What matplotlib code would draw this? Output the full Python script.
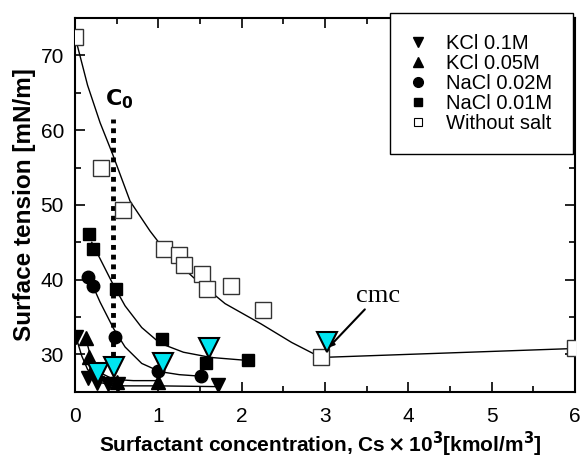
import matplotlib
matplotlib.use("Agg")
import matplotlib.pyplot as plt
from matplotlib.lines import Line2D

plt.rcParams['font.family'] = ['Liberation Sans', 'DejaVu Sans']

# datos
# KCl 0.1M (triangulos hacia abajo)
kcl01_x = [0.01, 0.16, 0.26, 0.39, 0.52, 1.71]
kcl01_y = [32.3, 26.9, 26.2, 26.1, 26.0, 25.9]
kcl01_fit_x = [0.02, 0.08, 0.15, 0.22, 0.32, 0.45, 0.6, 1.0, 1.7]
kcl01_fit_y = [32.0, 29.8, 28.0, 27.0, 26.2, 25.9, 25.8, 25.8, 25.7]

# KCl 0.05M (triangulos hacia arriba)
kcl005_x = [0.13, 0.17, 0.22, 0.5, 1.0]
kcl005_y = [32.2, 29.6, 28.2, 26.3, 26.3]
kcl005_fit_x = [0.12, 0.18, 0.25, 0.33, 0.42, 0.55, 0.7, 1.0]
kcl005_fit_y = [32.5, 30.0, 28.4, 27.4, 26.9, 26.6, 26.5, 26.5]

# NaCl 0.02M (circulos)
nacl002_x = [0.16, 0.21, 0.48, 0.99, 1.51]
nacl002_y = [40.4, 39.2, 32.3, 27.8, 27.1]
nacl002_fit_x = [0.2, 0.3, 0.46, 0.6, 0.8, 1.02, 1.25, 1.5]
nacl002_fit_y = [39.5, 37.0, 33.5, 31.0, 28.8, 27.7, 27.3, 27.1]

# NaCl 0.01M (cuadrados llenos)
nacl001_x = [0.17, 0.21, 0.49, 1.04, 1.57, 2.07]
nacl001_y = [46.1, 44.1, 38.8, 32.1, 28.9, 29.3]
nacl001_fit_x = [0.2, 0.3, 0.45, 0.6, 0.8, 1.02, 1.3, 1.63, 2.07]
nacl001_fit_y = [45.0, 42.8, 39.5, 36.5, 33.6, 31.5, 30.3, 29.6, 29.2]

# Sin sal (cuadrados vacios)
nosalt_x = [0.0, 0.31, 0.58, 1.07, 1.25, 1.31, 1.52, 1.58, 1.87, 2.25, 2.95, 6.0]
nosalt_y = [72.5, 54.9, 49.3, 44.1, 43.3, 41.9, 40.7, 38.7, 39.1, 35.9, 29.7, 30.8]
nosalt_fit_x = [0.0, 0.15, 0.3, 0.45, 0.66, 0.9, 1.1, 1.42, 1.8, 2.23, 2.6, 2.95, 6.0]
nosalt_fit_y = [72.5, 66.0, 61.0, 56.8, 50.5, 46.5, 43.6, 40.3, 36.8, 34.1, 31.6, 29.6, 30.8]

# cmc (triangulos cian)
cmc_x = [0.28, 0.47, 1.06, 1.61, 3.02]
cmc_y = [27.5, 28.3, 28.8, 30.9, 31.6]

c0_x = 0.46
c0_y = [28.5, 61.5]

fig = plt.figure(figsize=(5.82, 4.61), dpi=100)
ax = fig.add_axes([0.129, 0.150, 0.859, 0.811])

# curvas
for fx, fy in [(kcl01_fit_x, kcl01_fit_y), (kcl005_fit_x, kcl005_fit_y),
               (nacl002_fit_x, nacl002_fit_y), (nacl001_fit_x, nacl001_fit_y),
               (nosalt_fit_x, nosalt_fit_y)]:
    ax.plot(fx, fy, color='black', lw=1.0, zorder=2)

# linea C0
ax.plot([c0_x, c0_x], c0_y, color='black', lw=3.5, linestyle=(0, (1, 1)), zorder=3)
ax.text(0.36, 63.3, r'$\mathbf{C_0}$', fontsize=16, fontweight='bold')

# puntos
ax.plot(nosalt_x, nosalt_y, 's', ms=11, mfc='white', mec='#333333', mew=1.0, zorder=4)
ax.plot(nacl001_x, nacl001_y, 's', ms=9, color='black', zorder=4)
ax.plot(nacl002_x, nacl002_y, 'o', ms=9, color='black', zorder=4)
ax.plot(kcl005_x, kcl005_y, '^', ms=10, color='black', zorder=4)
ax.plot(kcl01_x, kcl01_y, 'v', ms=10, color='black', zorder=4)
ax.plot(cmc_x, cmc_y, 'v', ms=15, mfc='#00e5f0', mec='black', mew=1.5, zorder=5)

# cmc
ax.annotate('cmc', xy=(3.04, 30.9), xytext=(3.37, 36.4),
            fontsize=19, family='Liberation Serif', va='bottom', ha='left',
            arrowprops=dict(arrowstyle='-|>', color='black', lw=1.5,
                            mutation_scale=8, shrinkA=0, shrinkB=0))

ax.set_xlim(0, 6)
ax.set_ylim(25, 75)
ax.set_xticks(range(0, 7))
ax.set_yticks([30, 40, 50, 60, 70])
ax.set_xticks([0.5, 1.5, 2.5, 3.5, 4.5, 5.5], minor=True)
ax.set_yticks([35, 45, 55, 65], minor=True)
ax.tick_params(which='both', direction='in', top=True, right=True, width=1.2,
               labelsize=15)
ax.tick_params(axis='x', pad=11)
ax.tick_params(axis='y', pad=8)
ax.tick_params(which='major', length=7)
ax.tick_params(which='minor', length=4)
for s in ax.spines.values():
    s.set_linewidth(1.5)

xlab = ax.set_xlabel(r'Surfactant concentration, Cs$\,\mathbf{\times}\,$10$^{\mathbf{3}}$[kmol/m$^{\mathbf{3}}$]',
                     fontsize=15, fontweight='bold')
ax.xaxis.set_label_coords(0.49, -0.102)
xlab.set_va('top')
ax.set_ylabel('Surface tension [mN/m]', fontsize=17.5, fontweight='bold', labelpad=3)

handles = [
    Line2D([], [], ls='none', marker='v', ms=7, color='black'),
    Line2D([], [], ls='none', marker='^', ms=7, color='black'),
    Line2D([], [], ls='none', marker='o', ms=7, color='black'),
    Line2D([], [], ls='none', marker='s', ms=6, color='black'),
    Line2D([], [], ls='none', marker='s', ms=6, mfc='white', mec='black', mew=0.8),
]
labels = ['KCl 0.1M', 'KCl 0.05M', 'NaCl 0.02M', 'NaCl 0.01M', 'Without salt']
leg = fig.legend(handles, labels, loc='upper right', bbox_to_anchor=(0.985, 0.972),
                 borderaxespad=0, fontsize=14.5, frameon=True, fancybox=False,
                 framealpha=1, edgecolor='black', handletextpad=1.0,
                 labelspacing=0.05, borderpad=1.05, handlelength=0.75)
leg.get_frame().set_linewidth(1.0)

fig.savefig('out.png', dpi=100)
